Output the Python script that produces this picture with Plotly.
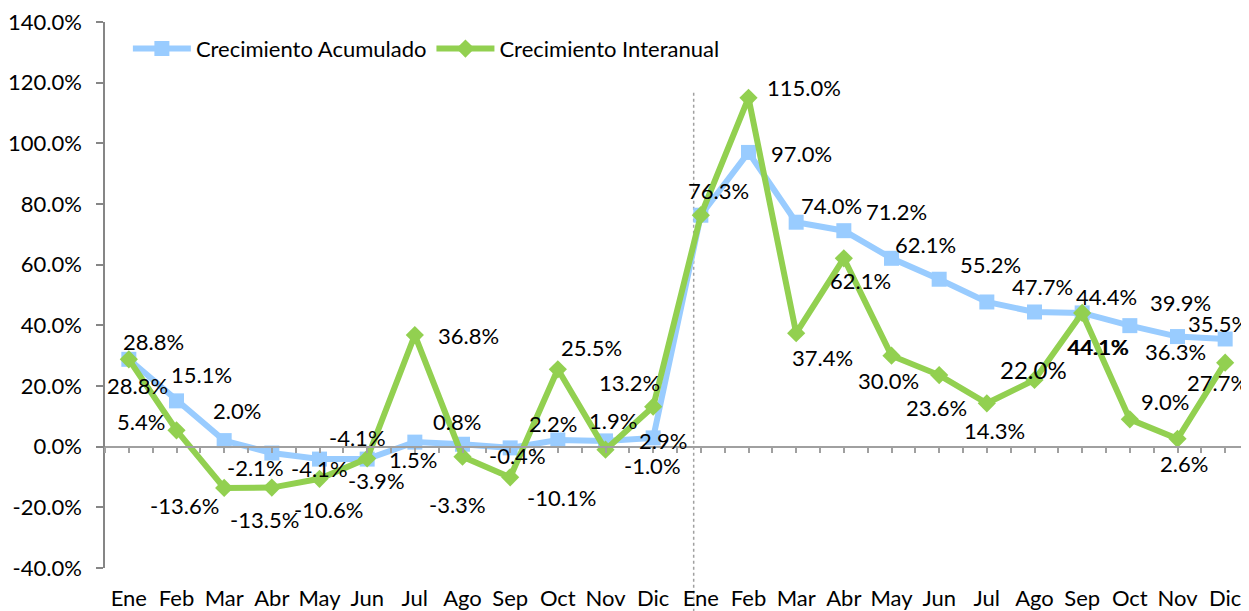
import plotly.graph_objects as go

months = ["Ene", "Feb", "Mar", "Abr", "May", "Jun", "Jul", "Ago", "Sep", "Oct", "Nov", "Dic"]
categories = months + months
acumulado = [28.8, 15.1, 2.0, -2.1, -4.1, -4.1, 1.5, 0.8, -0.4, 2.2, 1.9, 2.9,
             76.3, 97.0, 74.0, 71.2, 62.1, 55.2, 47.7, 44.4, 44.1, 39.9, 36.3, 35.5]
interanual = [28.8, 5.4, -13.6, -13.5, -10.6, -3.9, 36.8, -3.3, -10.1, 25.5, -1.0, 13.2,
              76.3, 115.0, 37.4, 62.1, 30.0, 23.6, 14.3, 22.0, 44.1, 9.0, 2.6, 27.7]
y_ticks = [-40, -20, 0, 20, 40, 60, 80, 100, 120, 140]

# label offsets in pixels (dx right, dy down) – styling only
acum_off = [(25, -18), (25, -26), (13, -30), (-16, 14), (0, 9), (-10, -22), (-2, 17), (-6, -23),
            (7, 8), (-5, -16), (7, -20), (10, 3), (18, -25), (53, 1), (35, -17), (53, -19),
            (34, -14), (51, -15), (56, -15), (72, -15), (15, 34), (51, -23), (-2, 15), (-7, -15)]
inter_off = [(9, 26), (-36, -9), (-40, 18), (-7, 32), (9, 31), (9, 22), (54, 0), (-5, 48),
             (51, 20), (34, -22), (47, 16), (-24, -24), (18, -25), (55, -10), (26, 24), (17, 22),
             (-3, 25), (-3, 32), (8, 27), (-1, -10), (16, 34), (35, -18), (6, 25), (-8, 20)]

BLUE = "#99CCFF"
GREEN = "#92D050"
FONT = "Lato, 'Liberation Sans', Arial, sans-serif"
FS = 22

x = list(range(len(categories)))

fig = go.Figure()
fig.add_trace(go.Scatter(
    x=x, y=acumulado, mode="lines+markers", name="Crecimiento Acumulado",
    line=dict(color=BLUE, width=6),
    marker=dict(symbol="square", size=15, color=BLUE),
))
fig.add_trace(go.Scatter(
    x=x, y=interanual, mode="lines+markers", name="Crecimiento Interanual",
    line=dict(color=GREEN, width=6),
    marker=dict(symbol="diamond", size=14, color=GREEN),
))
# dummy trace for zero-line axis
fig.add_trace(go.Scatter(x=[0], y=[None], xaxis="x2", showlegend=False, hoverinfo="skip"))

annotations = []
seen = set()
for vals, offs in ((acumulado, acum_off), (interanual, inter_off)):
    for i, (v, (dx, dy)) in enumerate(zip(vals, offs)):
        key = (i, f"{v:.1f}", dx, dy)
        if key in seen:  # identical label drawn at the identical spot
            continue
        seen.add(key)
        size = FS + 2 if (vals is interanual and i == 19) else FS
        annotations.append(dict(
            x=i, y=v, xref="x", yref="y", text=f"{v:.1f}%", showarrow=False,
            xshift=dx, yshift=-dy, xanchor="center", yanchor="middle",
            font=dict(size=size, color="#000000", family=FONT),
        ))

ymin, ymax = -40, 140
fig.update_layout(
    width=1241, height=603,
    margin=dict(l=96, r=0, t=12, b=42),
    paper_bgcolor="white", plot_bgcolor="white",
    font=dict(family=FONT, size=FS, color="#000000"),
    showlegend=True,
    legend=dict(orientation="h", x=0.020, y=0.951, xanchor="left", yanchor="middle",
                font=dict(size=FS), bgcolor="rgba(0,0,0,0)", itemwidth=58,
                traceorder="normal"),
    annotations=annotations,
    xaxis=dict(range=[-0.5, 23.5], tickmode="array", tickvals=x, ticktext=categories,
               showgrid=False, zeroline=False, showline=False, ticks="",
               ticklabelstandoff=15, tickfont=dict(size=FS)),
    xaxis2=dict(range=[-0.5, 23.5], overlaying="x", anchor="free",
                position=(0 - ymin) / (ymax - ymin), side="bottom",
                tickmode="linear", tick0=-0.5, dtick=0.5, ticks="outside", ticklen=6,
                tickcolor="#A0A0A0", tickwidth=1.5, showticklabels=False,
                showline=True, linecolor="#A0A0A0", linewidth=1.5, showgrid=False,
                zeroline=False),
    yaxis=dict(range=[ymin, ymax], tickmode="array", tickvals=y_ticks,
               ticktext=[f"{t:.1f}%" for t in y_ticks],
               showgrid=False, zeroline=False, showline=True, linecolor="#868686",
               linewidth=1.5, ticks="outside", ticklen=7, tickcolor="#868686",
               tickwidth=1.5, ticklabelstandoff=10, tickfont=dict(size=FS),
               ticklabeloverflow="allow"),
    shapes=[dict(type="line", xref="x", yref="paper", x0=11.85, x1=11.85,
                 y0=-0.08, y1=0.876, line=dict(color="#A0A0A0", width=1.5, dash="dot"),
                 layer="below")],
)

fig.write_html("out.html")
